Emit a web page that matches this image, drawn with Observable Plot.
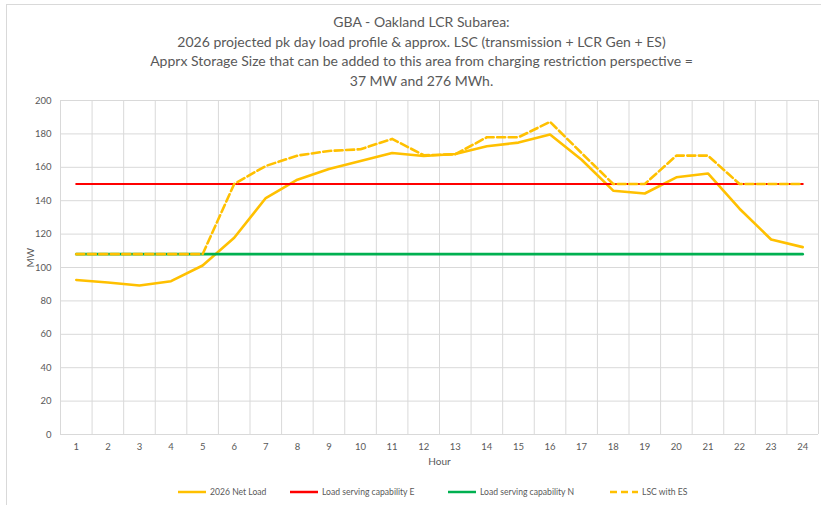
<!DOCTYPE html>
<html>
<head>
<meta charset="utf-8">
<script src="https://cdn.jsdelivr.net/npm/d3@7"></script>
<script src="https://cdn.jsdelivr.net/npm/@observablehq/plot@0.6"></script>
<style>
  html, body { margin: 0; padding: 0; background: #fff; }
  #wrap { position: relative; width: 821px; height: 505px; overflow: hidden; font-family: Lato, "Liberation Sans", sans-serif; color: #595959; }
  #frame { position: absolute; left: 6px; top: 4px; width: 830px; height: 520px; border: 1px solid #d9d9d9; box-sizing: border-box; }
  #title { position: absolute; left: 0; top: 12px; width: 843px; text-align: center; font-size: 14px; line-height: 19.6px; }
  #chart { position: absolute; left: 0; top: 90px; }
  #legend { position: absolute; top: 485px; left: 0; width: 821px; height: 16px; font-size: 8.6px; }
  .li { position: absolute; top: 0; display: flex; align-items: center; height: 14px; }
  .li svg { margin-right: 4px; }
</style>
</head>
<body>
<div id="wrap">
  <div id="frame"></div>
  <div id="title">
    <div>GBA - Oakland LCR Subarea:</div>
    <div>2026 projected pk day load profile &amp; approx. LSC (transmission + LCR Gen + ES)</div>
    <div>Apprx Storage Size that can be added to this area from charging restriction perspective =</div>
    <div>37 MW and 276 MWh.</div>
  </div>
  <div id="chart"></div>
  <div id="legend"></div>
</div>
<script>
const hours = [1,2,3,4,5,6,7,8,9,10,11,12,13,14,15,16,17,18,19,20,21,22,23,24];
const netLoad = [92.5,91,89.2,91.8,101.2,117.8,141.6,152.6,159,163.8,168.6,166.8,168,172.6,174.8,179.6,164.5,146,144.3,154,156.3,135.2,116.8,112.2];
const capE = [150,150,150,150,150,150,150,150,150,150,150,150,150,150,150,150,150,150,150,150,150,150,150,150];
const capN = [108,108,108,108,108,108,108,108,108,108,108,108,108,108,108,108,108,108,108,108,108,108,108,108];
const lscES = [108,108,108,108,108,150,160.8,167,169.8,170.8,177,167.2,167.8,178,178,187.2,168.5,150,150,167,167,150,150,150];
const yTicks = [0,20,40,60,80,100,120,140,160,180,200];

const seriesNames = ["2026 Net Load","Load serving capability E","Load serving capability N","LSC with ES"];
const seriesColors = ["#FFC000","#FF0000","#00B050","#FFC000"];

const mk = (vals) => hours.map((h, i) => ({hour: h, value: vals[i]}));
const boundaries = hours.map(h => h - 0.5).concat([hours[hours.length - 1] + 0.5]);

const plot = Plot.plot({
  width: 821,
  height: 380,
  marginLeft: 60,
  marginRight: 3,
  marginTop: 10,
  marginBottom: 36,
  style: { fontFamily: "Lato, 'Liberation Sans', sans-serif", fontSize: "9.5px", color: "#595959", background: "transparent" },
  x: { type: "linear", domain: [0.5, 24.5], ticks: hours, tickFormat: d => String(d), tickSize: 0, tickPadding: 9, label: null },
  y: { domain: [0, 200], ticks: yTicks, tickSize: 0, tickPadding: 9, label: null },
  marks: [
    Plot.ruleY(yTicks, { stroke: "#d9d9d9", strokeWidth: 1 }),
    Plot.ruleX(boundaries, { stroke: "#d9d9d9", strokeWidth: 1 }),
    Plot.line(mk(netLoad), { x: "hour", y: "value", stroke: seriesColors[0], strokeWidth: 2.6, strokeLinejoin: "round" }),
    Plot.line(mk(capE), { x: "hour", y: "value", stroke: seriesColors[1], strokeWidth: 2.2 }),
    Plot.line(mk(capN), { x: "hour", y: "value", stroke: seriesColors[2], strokeWidth: 2.6 }),
    Plot.line(mk(lscES), { x: "hour", y: "value", stroke: seriesColors[3], strokeWidth: 2.6, strokeDasharray: "8,3.5", strokeLinejoin: "round" }),
    Plot.text(["Hour"], { frameAnchor: "bottom", dy: 30, fontSize: 10, fill: "#595959" }),
    Plot.text(["MW"], { frameAnchor: "left", dx: -30, rotate: -90, fontSize: 10, fill: "#595959" })
  ]
});
document.getElementById("chart").appendChild(plot);

// legend
const legend = document.getElementById("legend");
const lefts = [178, 290, 448, 610];
seriesNames.forEach((name, i) => {
  const d = document.createElement("div");
  d.className = "li";
  d.style.left = lefts[i] + "px";
  const dash = i === 3 ? 'stroke-dasharray="7,4"' : "";
  d.innerHTML = `<svg width="28" height="6"><line x1="0" y1="3" x2="28" y2="3" stroke="${seriesColors[i]}" stroke-width="2.5" ${dash}/></svg><span>${name}</span>`;
  legend.appendChild(d);
});
</script>
</body>
</html>
